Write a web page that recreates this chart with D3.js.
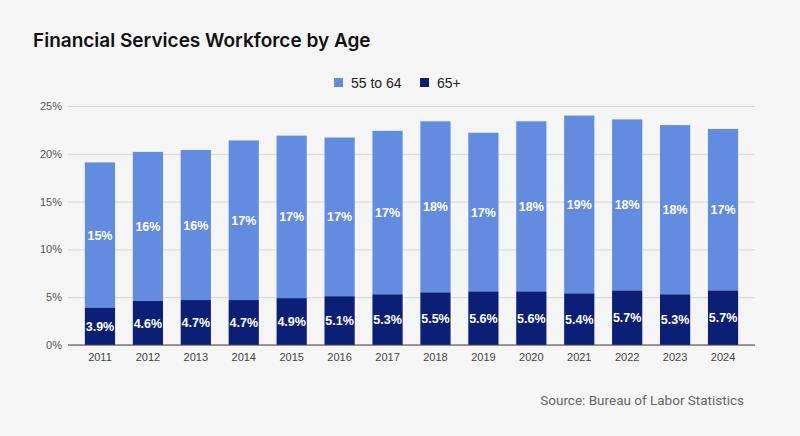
<!DOCTYPE html>
<html>
<head>
<meta charset="utf-8">
<script src="https://cdn.jsdelivr.net/npm/d3@7"></script>
<style>
  html, body { margin: 0; padding: 0; background: #f5f5f5; }
  svg { display: block; font-family: "Liberation Sans", Arial, sans-serif; }
</style>
</head>
<body>
<svg id="chart" width="800" height="436"></svg>
<script>
// data (percent of workforce)
var years = [ '2011', '2012', '2013', '2014', '2015', '2016', '2017', '2018', '2019', '2020', '2021', '2022', '2023', '2024' ];
var age55to64 = [ 15.2, 15.6, 15.7, 16.7, 17.0, 16.6, 17.1, 17.9, 16.6, 17.8, 18.6, 17.9, 17.7, 16.9 ];
var age65plus = [ 3.9, 4.6, 4.7, 4.7, 4.9, 5.1, 5.3, 5.5, 5.6, 5.6, 5.4, 5.7, 5.3, 5.7 ];
var yTicks = [ 0, 5, 10, 15, 20, 25 ];

var colors = { light: '#628ce0', dark: '#0c1f76' };

var svg = d3.select( '#chart' );

var x = d3.scaleBand()
	.domain( years )
	.range( [ 76, 747 ] )
	.paddingInner( 0.37 )
	.paddingOuter( 0.185 );

var y = d3.scaleLinear()
	.domain( [ 0, 25 ] )
	.range( [ 345, 106 ] );

// title
svg.append( 'text' )
	.attr( 'x', 33 )
	.attr( 'y', 47 )
	.style( 'font-family', 'Inter, Roboto, sans-serif' )
	.style( 'font-size', '19px' )
	.style( 'font-weight', 600 )
	.style( 'fill', '#111' )
	.text( 'Financial Services Workforce by Age' );

// legend
var legend = [ { name: '55 to 64', color: colors.light, x: 334 }, { name: '65+', color: colors.dark, x: 420 } ];
var lg = svg.selectAll( 'g.legend' )
	.data( legend )
	.enter()
	.append( 'g' )
	.classed( 'legend', true )
	.attr( 'transform', function ( d ) { return 'translate(' + d.x + ',78)'; } );
lg.append( 'rect' )
	.attr( 'width', 9 )
	.attr( 'height', 9 )
	.style( 'fill', function ( d ) { return d.color; } );
lg.append( 'text' )
	.attr( 'x', 17 )
	.attr( 'y', 10 )
	.style( 'font-size', '14px' )
	.style( 'fill', '#222' )
	.text( function ( d ) { return d.name; } );

// gridlines + y labels
var yAxis = d3.axisLeft( y )
	.tickValues( yTicks )
	.tickSize( -(755 - 68) )
	.tickPadding( 6 )
	.tickFormat( function ( d ) { return d + '%'; } );
var yg = svg.append( 'g' )
	.attr( 'transform', 'translate(68,0)' )
	.call( yAxis );
yg.select( '.domain' ).remove();
yg.selectAll( '.tick line' ).style( 'stroke', '#d6d6d6' );
yg.selectAll( '.tick text' )
	.style( 'font-size', '11px' )
	.style( 'fill', '#555' )
	.style( 'font-family', '"Liberation Sans", Arial, sans-serif' );

// stacked bars
var rows = years.map( function ( yr, i ) {
	return { year: yr, a: age55to64[i], b: age65plus[i] };
} );

var bar = svg.selectAll( 'g.bar' )
	.data( rows )
	.enter()
	.append( 'g' )
	.classed( 'bar', true );

bar.append( 'rect' )
	.attr( 'x', function ( d ) { return x( d.year ); } )
	.attr( 'width', x.bandwidth() )
	.attr( 'y', function ( d ) { return y( d.a + d.b ); } )
	.attr( 'height', function ( d ) { return y( d.b ) - y( d.a + d.b ); } )
	.style( 'fill', colors.light );

bar.append( 'rect' )
	.attr( 'x', function ( d ) { return x( d.year ); } )
	.attr( 'width', x.bandwidth() )
	.attr( 'y', function ( d ) { return y( d.b ); } )
	.attr( 'height', function ( d ) { return y( 0 ) - y( d.b ); } )
	.style( 'fill', colors.dark );

bar.append( 'text' )
	.attr( 'x', function ( d ) { return x( d.year ) + x.bandwidth() / 2; } )
	.attr( 'y', function ( d ) { return y( d.b + d.a / 2 ) + 4.5; } )
	.attr( 'text-anchor', 'middle' )
	.style( 'font-size', '12.5px' )
	.style( 'font-weight', 'bold' )
	.style( 'fill', '#fff' )
	.text( function ( d ) { return Math.round( d.a ) + '%'; } );

bar.append( 'text' )
	.attr( 'x', function ( d ) { return x( d.year ) + x.bandwidth() / 2; } )
	.attr( 'y', function ( d ) { return y( d.b / 2 ) + 4.5; } )
	.attr( 'text-anchor', 'middle' )
	.style( 'font-size', '12.5px' )
	.style( 'font-weight', 'bold' )
	.style( 'fill', '#fff' )
	.text( function ( d ) { return d.b.toFixed( 1 ) + '%'; } );

// x axis
var xg = svg.append( 'g' )
	.attr( 'transform', 'translate(0,345)' )
	.call( d3.axisBottom( x ).tickSize( 0 ).tickPadding( 8 ) );
xg.select( '.domain' ).remove();
xg.selectAll( '.tick text' )
	.style( 'font-size', '11px' )
	.style( 'fill', '#444' )
	.style( 'font-family', '"Liberation Sans", Arial, sans-serif' );
svg.append( 'line' )
	.attr( 'x1', 68 )
	.attr( 'x2', 755 )
	.attr( 'y1', 345 )
	.attr( 'y2', 345 )
	.style( 'stroke', '#444' );

// source
svg.append( 'text' )
	.attr( 'x', 744 )
	.attr( 'y', 405 )
	.attr( 'text-anchor', 'end' )
	.style( 'font-family', 'Roboto, sans-serif' )
	.style( 'font-size', '13.5px' )
	.style( 'fill', '#666' )
	.text( 'Source: Bureau of Labor Statistics' );
</script>
</body>
</html>
